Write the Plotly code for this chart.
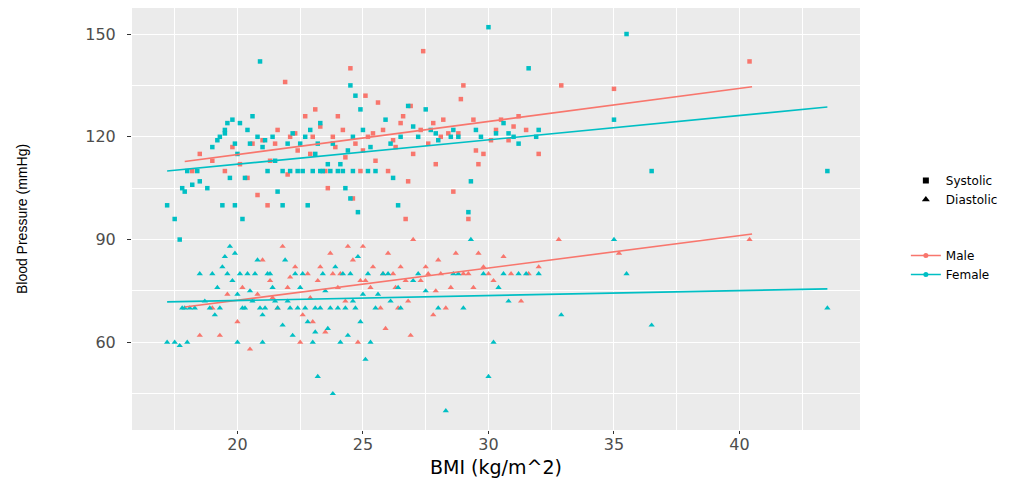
import plotly.graph_objects as go

# ---------------- data ----------------
female_sys_bmi = [17.2, 17.5, 17.7, 17.8, 17.9, 18.0, 18.2, 18.4, 18.8, 19.0, 19.3, 19.5, 19.6, 19.8, 19.9,
                  20.0, 19.4, 19.9, 20.2, 20.5, 20.8, 21.0, 21.2, 21.5, 20.9, 21.8, 22.0, 22.2, 22.4, 22.6,
                  22.9, 23.1, 23.4, 23.6, 23.8, 24.0, 24.2, 24.3, 24.5, 24.6, 24.7, 24.8, 25.0, 25.3, 25.5,
                  25.9, 26.1, 26.4, 26.8, 27.2, 27.5, 27.7, 28.0, 28.5, 28.6, 29.2, 29.3, 29.7, 30.0, 30.3,
                  30.6, 31.0, 31.2, 31.6, 32.0, 35.0, 35.5, 36.5, 43.5, 22.8, 23.2, 21.6, 20.3, 19.7, 24.4,
                  19.2, 19.5, 20.1, 20.4, 21.1, 21.4, 22.5, 22.7, 23.0, 23.3, 23.7, 24.1, 24.6, 25.2, 21.8,
                  22.1, 26.5, 27.0, 27.9, 28.8, 29.5, 30.8, 31.9, 26.2, 24.9, 24.5, 23.3, 20.6, 18.5]
female_sys_bp = [100, 96, 90, 105, 104, 110, 106, 110, 105, 117, 120, 122, 124, 125, 118,
                 115, 100, 100, 96, 118, 120, 117, 110, 113, 142, 100, 118, 121, 110, 110,
                 122, 115, 110, 112, 118, 110, 110, 105, 102, 120, 132, 98, 122, 117, 110,
                 125, 118, 100, 129, 120, 128, 122, 119, 120, 122, 98, 107, 120, 152, 121,
                 124, 120, 118, 140, 122, 125, 150, 110, 110, 100, 118, 104, 108, 108, 116,
                 119, 121, 124, 122, 119, 120, 118, 120, 110, 110, 110, 112, 110, 110, 110,
                 110, 120, 123, 121, 120, 122, 121, 120, 108, 128, 135, 124, 126, 107]

male_sys_bmi = [18.2, 18.5, 19.0, 19.5, 20.1, 20.4, 20.8, 21.0, 21.3, 21.9, 22.1, 22.4, 22.7, 23.0, 23.3,
                23.5, 23.8, 24.0, 24.3, 24.5, 24.7, 25.0, 25.2, 25.5, 25.8, 26.0, 26.3, 26.5, 26.8, 27.0,
                27.4, 27.6, 27.9, 28.2, 28.4, 28.6, 28.9, 29.0, 29.2, 29.5, 29.8, 30.1, 30.5, 31.0, 31.5,
                32.0, 32.9, 35.0, 40.4, 23.6, 22.0, 25.6, 26.9, 21.6, 24.9,
                21.5, 22.3, 22.9, 23.9, 24.2, 25.4, 26.2, 26.6, 27.3, 27.8, 28.1, 28.8, 29.4, 30.3, 30.8,
                31.2, 20.6, 19.8, 23.1, 25.1, 29.6, 24.6, 21.2, 26.7]
male_sys_bp = [110, 115, 113, 110, 112, 108, 103, 119, 113, 136, 120, 116, 126, 120, 123,
               110, 120, 126, 114, 140, 118, 116, 120, 113, 122, 110, 117, 124, 107, 115,
               145, 118, 112, 125, 121, 104, 131, 135, 96, 116, 115, 119, 125, 123, 122,
               115, 135, 134, 142, 105, 109, 130, 129, 122, 110,
               118, 121, 115, 117, 122, 121, 119, 126, 122, 124, 120, 121, 125, 122, 119,
               126, 118, 117, 128, 132, 112, 102, 100, 96]

female_dia_bmi = [17.2, 17.5, 17.7, 17.9, 18.0, 18.3, 18.7, 19.0, 19.2, 19.4, 19.5, 19.7, 19.8, 20.0, 20.0,
                  20.1, 20.3, 20.5, 20.7, 20.9, 21.0, 21.2, 21.4, 21.6, 21.8, 22.0, 22.2, 22.4, 22.6, 22.8,
                  23.0, 23.2, 23.3, 23.5, 23.6, 23.8, 24.0, 24.2, 24.4, 24.6, 24.8, 25.0, 25.1, 25.3, 25.5,
                  25.8, 26.1, 26.5, 27.0, 27.5, 28.0, 28.3, 28.6, 29.0, 29.3, 29.8, 30.0, 30.2, 30.4, 30.8,
                  31.2, 32.0, 32.9, 35.0, 35.5, 36.5, 43.5, 18.5, 19.1, 21.9, 23.9, 24.9,
                  17.8, 18.1, 18.9, 19.3, 20.2, 20.6, 21.1, 21.5, 22.1, 22.7, 23.1, 23.7, 24.3, 24.7, 19.6,
                  20.4, 21.3, 22.3, 23.4, 24.5, 25.2, 26.0, 27.2, 28.8, 30.6, 31.5, 25.6, 26.4, 22.5, 20.8,
                  19.9, 23.1, 24.1, 21.0]
female_dia_bp = [60, 60, 59, 70, 60, 70, 72, 80, 76, 82, 85, 88, 78, 74, 60,
                 80, 70, 75, 80, 70, 68, 80, 76, 70, 65, 72, 62, 70, 80, 66,
                 60, 50, 70, 75, 64, 45, 70, 80, 62, 72, 85, 74, 55, 60, 70,
                 80, 72, 70, 78, 75, 70, 40, 80, 70, 90, 80, 50, 60, 76, 72,
                 80, 80, 68, 90, 80, 65, 70, 80, 68, 84, 82, 66,
                 70, 70, 70, 70, 70, 72, 70, 72, 70, 70, 70, 70, 70, 70, 80,
                 80, 80, 80, 80, 80, 80, 80, 80, 80, 80, 80, 74, 76, 76, 84,
                 86, 63, 60, 60]

male_dia_bmi = [18.5, 19.0, 19.6, 20.0, 20.5, 20.8, 21.0, 21.3, 21.6, 22.0, 22.3, 22.6, 22.9, 23.2, 23.5,
                23.8, 24.0, 24.3, 24.6, 24.8, 25.1, 25.4, 25.7, 26.0, 26.3, 26.5, 26.8, 27.0, 27.3, 27.6,
                28.0, 28.3, 28.7, 29.0, 29.4, 29.8, 30.2, 30.6, 31.3, 32.0, 32.8, 35.2, 40.4, 21.8, 23.0,
                25.9, 27.8, 24.4, 26.9,
                20.2, 21.4, 22.1, 22.8, 23.3, 24.1, 24.9, 25.3, 25.8, 26.2, 26.7, 27.5, 28.1, 28.5, 29.2,
                30.0, 30.9, 31.6, 23.7, 25.0, 26.4, 27.9, 29.6, 19.3, 22.5]
male_dia_bp = [62, 70, 74, 66, 58, 74, 84, 78, 70, 76, 82, 68, 73, 78, 63,
               80, 76, 72, 84, 60, 78, 82, 70, 86, 76, 82, 72, 90, 78, 80,
               84, 70, 86, 80, 76, 82, 78, 85, 72, 82, 90, 86, 90, 88, 66,
               64, 68, 88, 62,
               76, 73, 79, 80, 82, 80, 78, 76, 80, 80, 78, 82, 80, 76, 80,
               80, 80, 80, 86, 88, 70, 75, 86, 62, 60]

# fitted trend lines (end points)
male_sys_fit_x = [17.9, 40.5]
male_sys_fit_y = [112.8, 134.6]
female_sys_fit_x = [17.2, 43.5]
female_sys_fit_y = [110.0, 128.7]
male_dia_fit_x = [17.9, 40.5]
male_dia_fit_y = [70.3, 91.6]
female_dia_fit_x = [17.2, 43.5]
female_dia_fit_y = [71.8, 75.6]

x_ticks = [20, 25, 30, 35, 40]
y_ticks = [60, 90, 120, 150]

MALE = "#F8766D"
FEMALE = "#00BFC4"

fig = go.Figure()

def pts(x, y, color, symbol, size):
    fig.add_trace(go.Scatter(x=x, y=y, mode="markers", showlegend=False,
                             marker=dict(color=color, symbol=symbol, size=size, line=dict(width=0))))

pts(male_sys_bmi, male_sys_bp, MALE, "square", 4.5)
pts(female_sys_bmi, female_sys_bp, FEMALE, "square", 4.5)
pts(male_dia_bmi, male_dia_bp, MALE, "triangle-up", 5.5)
pts(female_dia_bmi, female_dia_bp, FEMALE, "triangle-up", 5.5)

def fit(x, y, color):
    fig.add_trace(go.Scatter(x=x, y=y, mode="lines", showlegend=False,
                             line=dict(color=color, width=1.6)))

fit(male_sys_fit_x, male_sys_fit_y, MALE)
fit(female_sys_fit_x, female_sys_fit_y, FEMALE)
fit(male_dia_fit_x, male_dia_fit_y, MALE)
fit(female_dia_fit_x, female_dia_fit_y, FEMALE)

# legend-only traces
fig.add_trace(go.Scatter(x=[None], y=[None], mode="markers", name="Systolic", legendgroup="shape",
                         marker=dict(color="black", symbol="square", size=6)))
fig.add_trace(go.Scatter(x=[None], y=[None], mode="markers", name="Diastolic", legendgroup="shape",
                         marker=dict(color="black", symbol="triangle-up", size=7)))
fig.add_trace(go.Scatter(x=[None], y=[None], mode="lines+markers", name="Male", legendgroup="sex",
                         line=dict(color=MALE, width=1.6), marker=dict(color=MALE, size=5)))
fig.add_trace(go.Scatter(x=[None], y=[None], mode="lines+markers", name="Female", legendgroup="sex",
                         line=dict(color=FEMALE, width=1.6), marker=dict(color=FEMALE, size=5)))

axis_common = dict(
    showgrid=True, gridcolor="white", gridwidth=1.3,
    zeroline=False, showline=False, automargin=False,
    ticks="outside", tickcolor="#333333", tickwidth=1,
    tickfont=dict(family="DejaVu Sans", size=16, color="#4D4D4D"),
)

fig.update_xaxes(range=[15.8, 44.8], tickvals=x_ticks, **axis_common,
                 ticklen=3, ticklabelstandoff=-3,
                 minor=dict(dtick=2.5, tick0=17.5, gridcolor="white", gridwidth=0.6, showgrid=True),
                 title=dict(text="BMI (kg/m^2)", font=dict(family="DejaVu Sans", size=19, color="black"),
                            standoff=12))
fig.update_yaxes(range=[34.4, 157.6], tickvals=y_ticks, **axis_common,
                 ticklen=4, ticklabelstandoff=8,
                 minor=dict(dtick=15, tick0=45, gridcolor="white", gridwidth=0.6, showgrid=True),
                 title=dict(text="Blood Pressure (mmHg)",
                            font=dict(family="Liberation Sans Narrow, Liberation Sans", size=14, color="black"),
                            standoff=54))

fig.update_layout(
    width=1017, height=478,
    margin=dict(l=132, r=157, t=8, b=48),
    paper_bgcolor="white", plot_bgcolor="#EBEBEB",
    legend=dict(x=1.063, xanchor="left", y=0.48, yanchor="middle",
                font=dict(family="DejaVu Sans", size=12, color="black"),
                tracegroupgap=37, itemwidth=30, bgcolor="rgba(0,0,0,0)"),
)

fig.write_html("out.html", config={"displayModeBar": False},
               post_script="document.body.style.margin='0';")
